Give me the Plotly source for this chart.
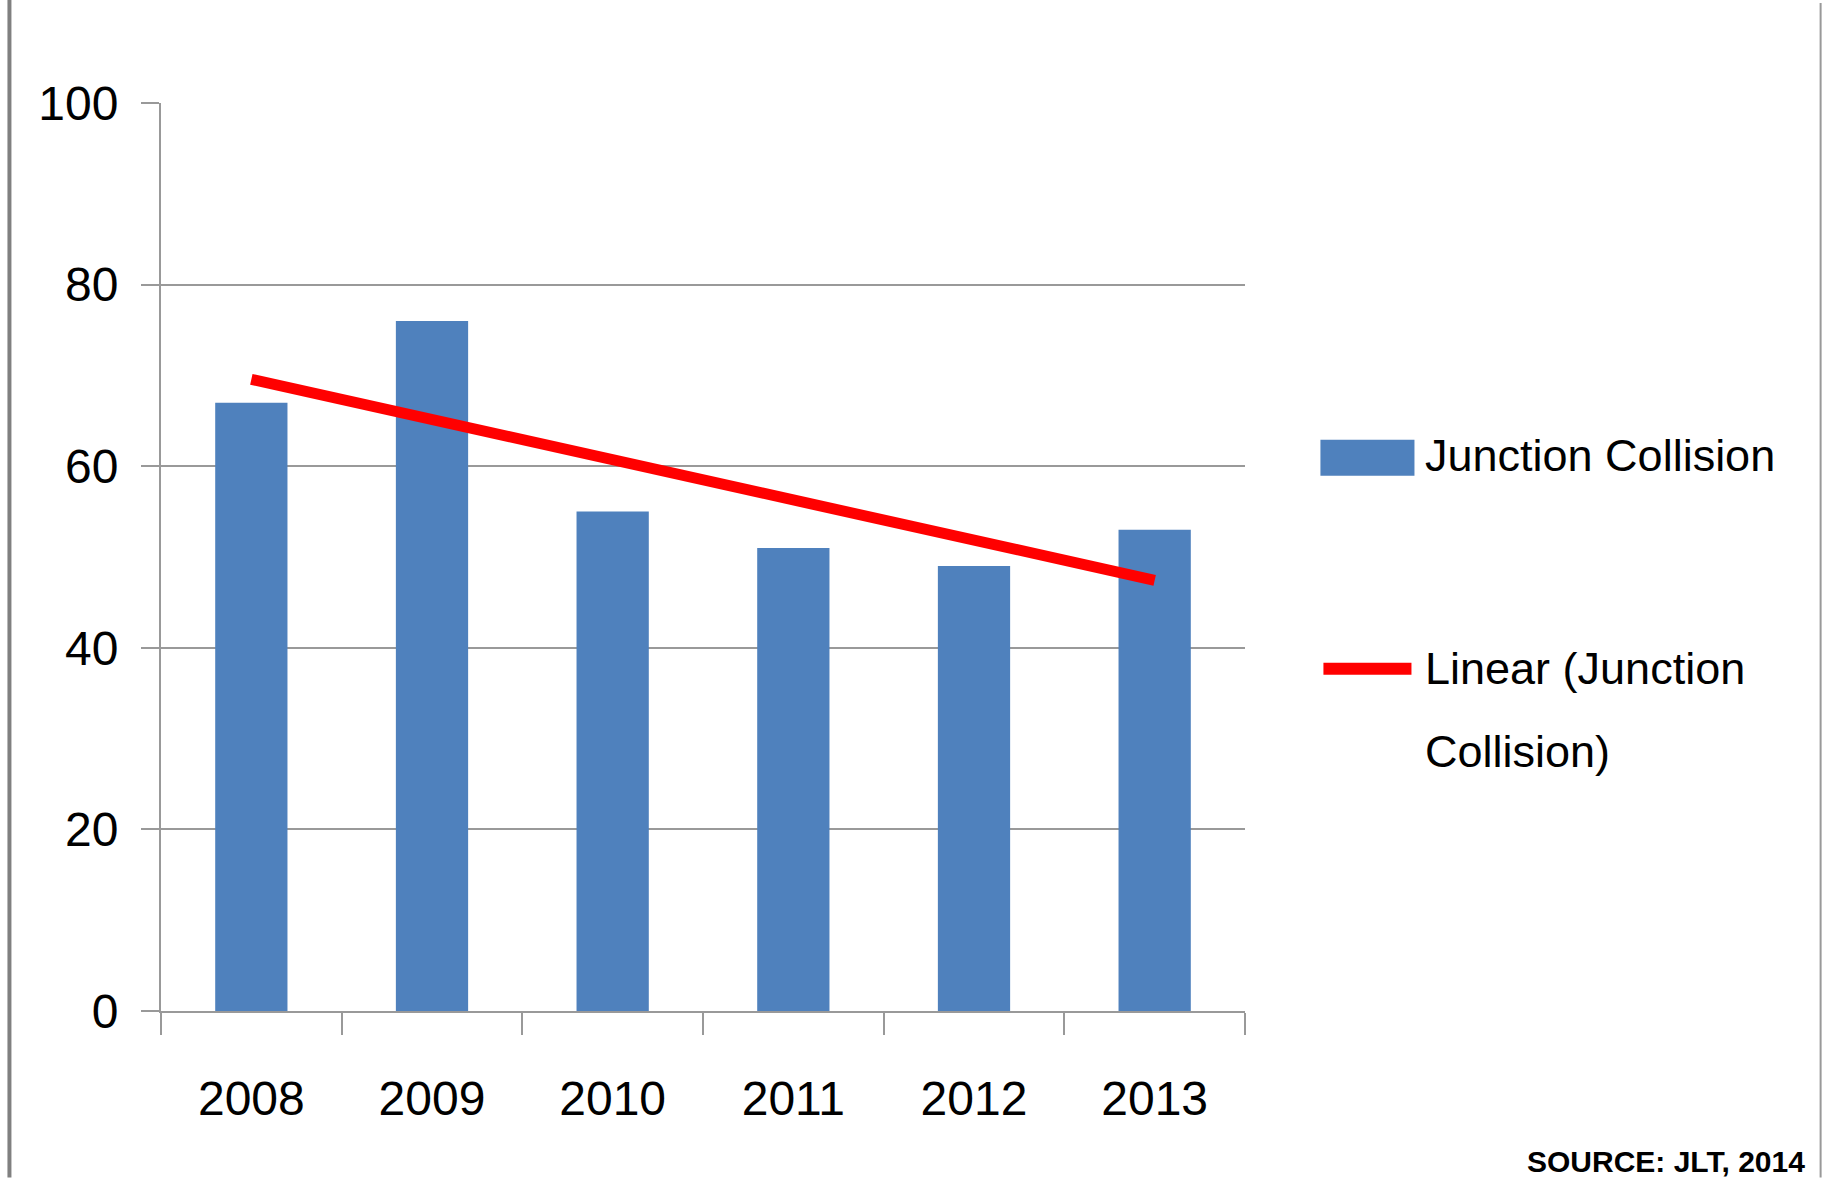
import numpy as np
import plotly.graph_objects as go

# ---- data ----
years = ["2008", "2009", "2010", "2011", "2012", "2013"]
junction_collision = [67, 76, 55, 51, 49, 53]
y_ticks = [0, 20, 40, 60, 80, 100]
series_name = "Junction Collision"
trend_name_lines = ["Linear (Junction", "Collision)"]
source_text = "SOURCE: JLT, 2014"

# linear trendline (least squares, like Excel's "Linear" trendline)
xi = np.arange(1, len(years) + 1)
slope, intercept = np.polyfit(xi, junction_collision, 1)
trend = list(slope * xi + intercept)

# ---- layout geometry (pixels) ----
W, H = 1829, 1178
L, R, T, B = 161, 1244.6, 103, 1011.5

def px(x):
    return (x - L) / (R - L)

def py(y):
    return (B - y) / (B - T)

FONT = "Liberation Sans, Arial, sans-serif"
GRID = "#999999"
BLUE = "#4F81BD"
RED = "#FF0000"
TICK_SIZE = 48
LEG_SIZE = 45

fig = go.Figure()
fig.add_trace(go.Bar(x=years, y=junction_collision, name=series_name,
                     marker=dict(color=BLUE, line=dict(width=0)), width=0.40,
                     showlegend=False))
fig.add_trace(go.Scatter(x=years, y=trend, mode="lines", name=" ".join(trend_name_lines),
                         line=dict(color=RED, width=11), showlegend=False))

shapes = [
    # page borders
    dict(type="line", xref="paper", yref="paper", x0=px(9.5), x1=px(9.5), y0=py(0), y1=py(H),
         line=dict(color="#808080", width=4)),
    dict(type="line", xref="paper", yref="paper", x0=px(1820), x1=px(1820), y0=py(3), y1=py(H),
         line=dict(color="#999999", width=2)),
    # legend swatches
    dict(type="rect", xref="paper", yref="paper", x0=px(1320), x1=px(1414), y0=py(476), y1=py(440),
         fillcolor=BLUE, line=dict(width=0)),
    dict(type="line", xref="paper", yref="paper", x0=px(1323), x1=px(1411), y0=py(669), y1=py(669),
         line=dict(color=RED, width=12)),
]

annotations = [
    dict(text=series_name, xref="paper", yref="paper", x=px(1423), y=py(456),
         xanchor="left", yanchor="middle", showarrow=False,
         font=dict(family=FONT, size=LEG_SIZE, color="#000000")),
    dict(text=trend_name_lines[0], xref="paper", yref="paper", x=px(1423), y=py(669),
         xanchor="left", yanchor="middle", showarrow=False,
         font=dict(family=FONT, size=LEG_SIZE, color="#000000")),
    dict(text=trend_name_lines[1], xref="paper", yref="paper", x=px(1423), y=py(752),
         xanchor="left", yanchor="middle", showarrow=False,
         font=dict(family=FONT, size=LEG_SIZE, color="#000000")),
    dict(text="<b>" + source_text + "</b>", xref="paper", yref="paper", x=px(1806), y=py(1162),
         xanchor="right", yanchor="middle", showarrow=False,
         font=dict(family=FONT, size=30, color="#000000")),
]

fig.update_layout(
    width=W, height=H,
    margin=dict(l=L, r=W - R, t=T, b=H - B, pad=0),
    paper_bgcolor="white", plot_bgcolor="white",
    shapes=shapes, annotations=annotations,
    font=dict(family=FONT, color="#000000"),
)
fig.update_xaxes(
    type="category", showgrid=False, showline=True, linecolor=GRID, linewidth=2,
    ticks="outside", tickson="boundaries", ticklen=22, tickwidth=2, tickcolor=GRID,
    tickfont=dict(family=FONT, size=TICK_SIZE, color="#000000"), ticklabelstandoff=44,
    zeroline=False,
)
fig.update_yaxes(
    range=[0, 100], tickvals=y_ticks, showgrid=True, gridcolor=GRID, gridwidth=2,
    showline=True, linecolor=GRID, linewidth=2, zeroline=False,
    ticks="outside", ticklen=18, tickwidth=2, tickcolor=GRID,
    tickfont=dict(family=FONT, size=TICK_SIZE, color="#000000"), ticklabelstandoff=13,
)

fig.write_html("out.html", config={"displayModeBar": False},
               post_script="document.body.style.margin='0';document.body.style.overflow='hidden';")
